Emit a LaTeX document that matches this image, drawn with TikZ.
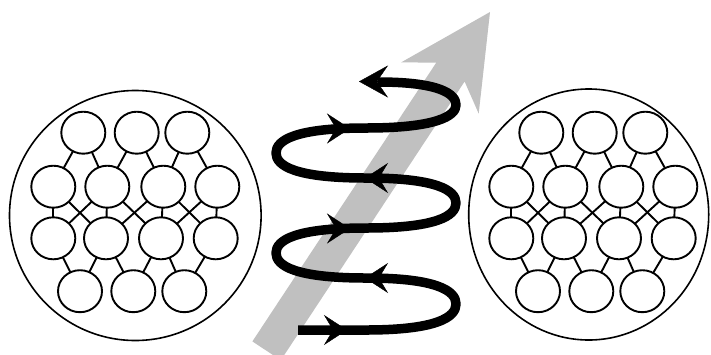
\documentclass[tikz,border=0pt]{standalone}
\usetikzlibrary{shapes.geometric,arrows.meta}
\definecolor{arrowgray}{RGB}{192,192,192}
\tikzset{
  unit/.style={ellipse, draw, fill=white, line width=1.9pt, minimum width=44pt, minimum height=42pt, inner sep=0pt, outer sep=0pt},
  link/.style={line width=1.9pt},
  ring/.style={line width=1.6pt},
  coil/.style={line width=9.5pt, line cap=butt, line join=round},
  midtip/.style={line width=0.4pt, -{Stealth[length=23pt,width=30pt,inset=9pt]}},
  endtip/.style={line width=0.4pt, -{Stealth[length=29pt,width=32pt,inset=11pt]}}
}
\begin{document}
\begin{tikzpicture}[x=1pt,y=-1pt]
\clip (0,0) rectangle (711,354);
\fill[white] (0,0) rectangle (711,354);
% outer rings
\draw[ring] (135.3,215.5) ellipse [x radius=125.8pt, y radius=125pt];
\draw[ring] (588.7,214.5) ellipse [x radius=120pt, y radius=125.5pt];
% networks
\foreach \p/\dx in {L/0,R/458}{
  \foreach \i/\x in {1/83.3,2/136.7,3/187.3}
    \node[unit] (\p a\i) at (\x+\dx,132.7) {};
  \foreach \i/\x in {1/53.3,2/107.3,3/163.3,4/217.3}
    \node[unit] (\p b\i) at (\x+\dx,186.7) {};
  \foreach \i/\x in {1/53.3,2/106,3/161,4/215.7}
    \node[unit] (\p c\i) at (\x+\dx,238.3) {};
  \foreach \i/\x in {1/80,2/133.3,3/184.3}
    \node[unit] (\p d\i) at (\x+\dx,291.2) {};
  \foreach \i/\j in {1/1,1/2,2/2,2/3,3/3,3/4}
    \draw[link] (\p a\i) -- (\p b\j);
  \foreach \i/\j in {1/1,1/2,2/1,2/2,2/3,3/2,3/3,3/4,4/3,4/4}
    \draw[link] (\p b\i) -- (\p c\j);
  \foreach \i/\j in {1/1,2/1,2/2,3/2,3/3,4/3}
    \draw[link] (\p c\i) -- (\p d\j);
}
% gray arrow
\fill[arrowgray] (252.4,341.4) -- (436.3,62.6) -- (401.1,62.4) -- (490,12)
  -- (478.7,113.6) -- (464.6,81.5) -- (280.8,360.2) -- cycle;
% coil
\coordinate (cs) at (298,330);
\coordinate (ce) at (378,82);
\draw[coil] (cs) -- (366,330)
  .. controls (436,330) and (456,317.5) .. (456,304)
  .. controls (456,290.5) and (436,278) .. (366,278)
  .. controls (296,278) and (276,266) .. (276,253)
  .. controls (276,240) and (296,228) .. (366,228)
  .. controls (436,228) and (456,216) .. (456,203)
  .. controls (456,190) and (436,178) .. (366,178)
  .. controls (296,178) and (276,166) .. (276,153)
  .. controls (276,140) and (296,128) .. (366,128)
  .. controls (436,128) and (456,116) .. (456,105)
  .. controls (456,94) and (440,82) .. (ce);
% arrowheads on the coil
\coordinate (t0a) at (324,330); \coordinate (t0b) at (347,330);
\coordinate (t1a) at (388,278); \coordinate (t1b) at (365,278);
\coordinate (t2a) at (327,228.5); \coordinate (t2b) at (350,228.5);
\coordinate (t3a) at (388,178); \coordinate (t3b) at (365,178);
\coordinate (t4a) at (327,128.5); \coordinate (t4b) at (350,128.5);
\coordinate (t5a) at (388,81.5); \coordinate (t5b) at (359,81.5);
\draw[midtip] (t0a) -- (t0b);
\draw[midtip] (t1a) -- (t1b);
\draw[midtip] (t2a) -- (t2b);
\draw[midtip] (t3a) -- (t3b);
\draw[midtip] (t4a) -- (t4b);
\draw[endtip] (t5a) -- (t5b);
\end{tikzpicture}
\end{document}
